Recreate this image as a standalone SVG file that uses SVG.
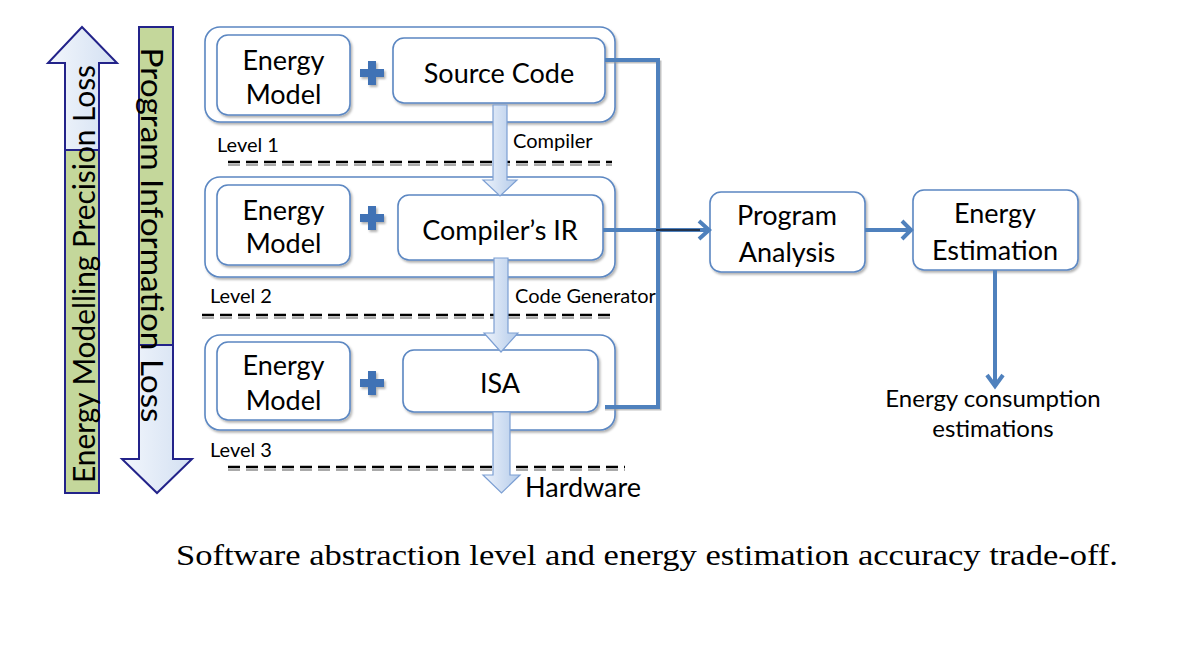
<svg xmlns="http://www.w3.org/2000/svg" width="1200" height="647" viewBox="0 0 1200 647">
<style>
.t{font-family:Lato,"Liberation Sans",sans-serif;fill:#000}
.big{font-size:27px}
.sm{font-size:20px}
.outer{fill:#fff;stroke:#5b87c2;stroke-width:1.6}
.inner{fill:#fff;stroke:#5b87c2;stroke-width:1.6}
.conn{fill:none;stroke:#4f81bd;stroke-width:4}
.dash{stroke:#000;stroke-width:2.6;stroke-dasharray:12 6}
.dashs{stroke:#aaa;stroke-width:2;stroke-dasharray:12 6}
.plus{fill:#3f72b5}
.blk{fill:url(#gb);stroke:#7c9fd3;stroke-width:1.2}
.big-arrow{fill:url(#ga);stroke:#23238a;stroke-width:2}
.green{fill:#c4d79b;stroke:#23238a;stroke-width:2}
</style>
<defs>
<linearGradient id="gb" x1="0" y1="0" x2="1" y2="0">
<stop offset="0" stop-color="#eef3fb"/>
<stop offset="1" stop-color="#b4cbea"/>
</linearGradient>
<linearGradient id="ga" x1="0" y1="0" x2="1" y2="0">
<stop offset="0" stop-color="#f2f6fc"/>
<stop offset="1" stop-color="#d3e0f2"/>
</linearGradient>
<filter id="sh" x="-10%" y="-10%" width="130%" height="130%">
<feDropShadow dx="1.5" dy="2" stdDeviation="1" flood-color="#000" flood-opacity="0.3"/>
</filter>
</defs>

<g id="arrow-precision">
<polygon class="big-arrow" points="82,27 117,63 99,63 99,493 65,493 65,63 48,63"/>
<rect class="green" x="65" y="150" width="34" height="343"/>
<text class="t" font-size="30" transform="translate(95,274) rotate(-90)" text-anchor="middle" textLength="418" lengthAdjust="spacingAndGlyphs">Energy Modelling Precision Loss</text>
</g>

<g id="arrow-information">
<polygon class="big-arrow" points="139,27 173,27 173,459 192,459 157,493 122,459 139,459"/>
<rect class="green" x="139" y="27" width="34" height="318"/>
<text class="t" font-size="30" transform="translate(141,235) rotate(90)" text-anchor="middle" textLength="375" lengthAdjust="spacingAndGlyphs">Program Information Loss</text>
</g>

<g id="dashes">
<line class="dashs" x1="228" y1="165" x2="612" y2="165"/>
<line class="dash" x1="228" y1="162" x2="612" y2="162"/>
<line class="dashs" x1="202" y1="318" x2="615" y2="318"/>
<line class="dash" x1="202" y1="315" x2="615" y2="315"/>
<line class="dashs" x1="228" y1="470" x2="625" y2="470"/>
<line class="dash" x1="228" y1="467" x2="625" y2="467"/>
</g>

<g id="level1">
<rect class="outer" x="205" y="27" width="410" height="95" rx="15" filter="url(#sh)"/>
<rect class="inner" x="217" y="35" width="133" height="80" rx="11" filter="url(#sh)"/>
<text class="t big" x="283.5" y="70" text-anchor="middle">Energy</text>
<text class="t big" x="283.5" y="104" text-anchor="middle">Model</text>
<path class="plus" d="M368,61h8v8h8v8h-8v8h-8v-8h-8v-8h8z" filter="url(#sh)"/>
<rect class="inner" x="393" y="38" width="212" height="65" rx="11" filter="url(#sh)"/>
<text class="t big" x="499" y="83" text-anchor="middle">Source Code</text>
<text class="t sm" x="217" y="152">Level 1</text>
<text class="t sm" x="513" y="148">Compiler</text>
</g>

<g id="level2">
<rect class="outer" x="205" y="177" width="410" height="100" rx="15" filter="url(#sh)"/>
<rect class="inner" x="217" y="185" width="133" height="80" rx="11" filter="url(#sh)"/>
<text class="t big" x="283.5" y="220" text-anchor="middle">Energy</text>
<text class="t big" x="283.5" y="253" text-anchor="middle">Model</text>
<path class="plus" d="M368,206h8v8h8v8h-8v8h-8v-8h-8v-8h8z" filter="url(#sh)"/>
<rect class="inner" x="398" y="195" width="205" height="65" rx="11" filter="url(#sh)"/>
<text class="t big" x="500" y="240" text-anchor="middle">Compiler’s IR</text>
<text class="t sm" x="210" y="303">Level 2</text>
<text class="t sm" x="515" y="303">Code Generator</text>
</g>

<g id="level3">
<rect class="outer" x="205" y="335" width="410" height="95" rx="15" filter="url(#sh)"/>
<rect class="inner" x="217" y="342" width="133" height="78" rx="11" filter="url(#sh)"/>
<text class="t big" x="283.5" y="375" text-anchor="middle">Energy</text>
<text class="t big" x="283.5" y="410" text-anchor="middle">Model</text>
<path class="plus" d="M368,371h8v8h8v8h-8v8h-8v-8h-8v-8h8z" filter="url(#sh)"/>
<rect class="inner" x="403" y="350" width="195" height="62" rx="11" filter="url(#sh)"/>
<text class="t big" x="500" y="393" text-anchor="middle">ISA</text>
<text class="t sm" x="210" y="457">Level 3</text>
<text class="t" font-size="27" x="525" y="497">Hardware</text>
</g>

<g id="block-arrows">
<polygon class="blk" points="493,105 507,105 507,180 517,180 500,196 483,180 493,180"/>
<polygon class="blk" points="494,258 508,258 508,333 518,333 501,352 484,333 494,333"/>
<polygon class="blk" points="493,412 510,412 510,475 520,475 501.5,493 483,475 493,475"/>
</g>

<g id="program-analysis">
<rect class="inner" x="710" y="192" width="155" height="80" rx="11" filter="url(#sh)"/>
<text class="t big" x="787" y="225" text-anchor="middle">Program</text>
<text class="t big" x="787" y="262" text-anchor="middle">Analysis</text>
</g>

<g id="energy-estimation">
<rect class="inner" x="913" y="190" width="165" height="80" rx="11" filter="url(#sh)"/>
<text class="t big" x="995" y="223" text-anchor="middle">Energy</text>
<text class="t big" x="995" y="260" text-anchor="middle">Estimation</text>
</g>

<g id="output-label">
<text class="t" font-size="24" x="993" y="407" text-anchor="middle">Energy consumption</text>
<text class="t" font-size="24" x="993" y="437" text-anchor="middle">estimations</text>
</g>

<g id="connectors">
<path d="M605,62 H660 V409 H605" fill="none" stroke="#999" stroke-width="3" opacity="0.6"/>
<path class="conn" d="M605,60 H658 V407 H605"/>
<path class="conn" d="M603,230 H706"/>
<line x1="656" y1="230" x2="700" y2="230" stroke="#23344f" stroke-width="2"/>
<polyline class="conn" points="699,221 709,230 699,239"/>
<path class="conn" d="M865,230 H908"/>
<polyline class="conn" points="902,221 911,230 902,239"/>
<path class="conn" stroke-width="3" d="M995,270 V385"/>
<polyline class="conn" stroke-width="3" points="987,375 995,386 1003,375"/>
</g>

<text x="176" y="565" font-family="'Liberation Serif',serif" font-size="29" textLength="942" lengthAdjust="spacingAndGlyphs" fill="#000">Software abstraction level and energy estimation accuracy trade-off.</text>
</svg>
